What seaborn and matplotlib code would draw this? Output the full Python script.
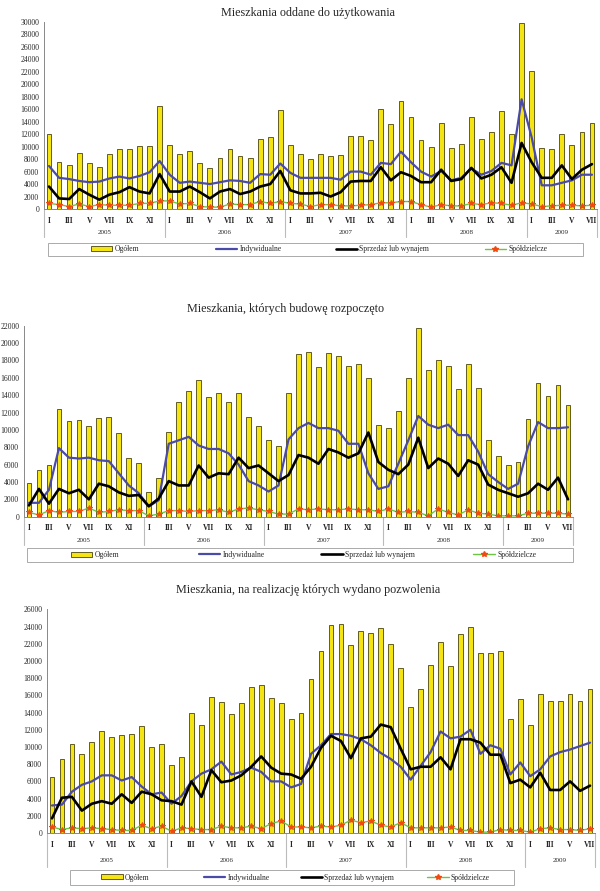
import numpy as np
import pandas as pd
import seaborn as sns
import matplotlib.pyplot as plt
from matplotlib.patches import Patch, Rectangle
from matplotlib.lines import Line2D
from matplotlib.legend import Legend
from matplotlib.transforms import blended_transform_factory

# months Jan 2005 .. Jul 2009
years = ["2005", "2006", "2007", "2008", "2009"]
roman = ["I", "II", "III", "IV", "V", "VI", "VII", "VIII", "IX", "X", "XI", "XII"]
n_months = 55
series_names = ["Ogółem", "Indywidualne", "Sprzedaż lub wynajem", "Spółdzielcze"]

# panel 1: Mieszkania oddane do użytkowania
title_1 = "Mieszkania oddane do użytkowania"
ogolem_1 = [12000, 7600, 7000, 9000, 7300, 6800, 8800, 9600, 9600, 10100, 10100, 16500,
            10200, 8800, 9300, 7300, 6600, 8200, 9600, 8500, 8200, 11200, 11600, 15900,
            10300, 8800, 8100, 8800, 8500, 8700, 11700, 11700, 11100, 16000, 13600, 17300,
            14700, 11000, 9900, 13800, 9800, 10400, 14700, 11300, 12400, 15800, 12100, 29900,
            22100, 9800, 9700, 12100, 10300, 12400, 13800]
indyw_1 = [6900, 5000, 4800, 4500, 4300, 4400, 4900, 5200, 4900, 5300, 5900, 7700,
           5500, 4200, 4400, 4200, 4000, 4300, 4600, 4500, 4200, 5600, 5500, 7300,
           5800, 5000, 5000, 5000, 5000, 4700, 6000, 6000, 5500, 7400, 7200, 9200,
           7500, 6000, 5200, 6100, 4600, 5000, 6500, 5500, 6100, 7400, 7000, 17600,
           11500, 3800, 3800, 4200, 4600, 5500, 5500]
sprzed_1 = [3600, 1700, 1600, 3200, 2300, 1500, 2300, 2700, 3500, 2800, 2500, 5600,
            2800, 2800, 3600, 2700, 1700, 2800, 3200, 2400, 2800, 3600, 4000, 6100,
            3000, 2500, 2500, 2600, 2000, 2700, 4400, 4500, 4500, 6700, 4600, 5900,
            5300, 4300, 4300, 6300, 4500, 4800, 6600, 4900, 5500, 6700, 4200, 10600,
            7500, 5000, 5000, 7000, 4800, 6300, 7200]
spoldz_1 = [900, 700, 400, 800, 400, 700, 600, 600, 600, 900, 900, 1300,
            1300, 800, 900, 400, 300, 300, 800, 700, 700, 1200, 900, 1200,
            900, 800, 400, 700, 700, 500, 500, 600, 700, 1000, 1000, 1200,
            1200, 700, 300, 700, 500, 500, 900, 700, 1000, 900, 600, 1000,
            800, 400, 500, 600, 600, 500, 600]

# panel 2: Mieszkania, których budowę rozpoczęto
title_2 = "Mieszkania, których budowę rozpoczęto"
ogolem_2 = [3900, 5400, 5900, 12400, 11000, 11100, 10400, 11400, 11500, 9600, 6800, 6200,
            2800, 4500, 9700, 13200, 14500, 15700, 13800, 14200, 13200, 14300, 11500, 10500,
            8800, 8200, 14300, 18700, 19000, 17300, 18900, 18500, 17400, 17600, 16000, 10600,
            10200, 12200, 16000, 21700, 16900, 18000, 17400, 14700, 17600, 14800, 8800, 7000,
            6000, 6300, 11300, 15400, 13900, 15200, 12900]
indyw_2 = [1600, 1600, 3100, 7900, 6800, 6700, 6800, 6500, 6400, 5000, 3600, 2700,
           1200, 1900, 8400, 8800, 9200, 8200, 7800, 7800, 7300, 6000, 4100, 3600,
           2900, 3600, 8900, 10200, 10800, 10200, 10200, 9900, 8400, 8400, 5000, 3200,
           3500, 6100, 8800, 11600, 10600, 10200, 10600, 9400, 9400, 7500, 4900, 4000,
           3200, 3800, 8100, 10900, 10200, 10200, 10300]
sprzed_2 = [1300, 3200, 1500, 3200, 2700, 3100, 2000, 3800, 3500, 2800, 2400, 2500,
            1200, 2100, 4100, 3600, 3600, 5900, 4500, 5000, 4900, 6800, 5600, 5900,
            5000, 4100, 4800, 7100, 6800, 6100, 7800, 7400, 6800, 7300, 9700, 6300,
            5400, 4900, 6000, 9100, 5600, 6700, 6100, 4700, 6500, 6000, 3700, 3100,
            2700, 2300, 2700, 3800, 3100, 4500, 2000]
spoldz_2 = [500, 200, 700, 500, 600, 600, 1000, 500, 600, 800, 700, 700,
            100, 300, 700, 700, 600, 700, 700, 800, 500, 900, 1000, 800,
            600, 300, 300, 900, 800, 900, 800, 800, 900, 800, 800, 600,
            900, 500, 600, 500, 100, 900, 500, 200, 800, 400, 300, 100,
            100, 100, 400, 400, 400, 400, 300]

# panel 3: Mieszkania, na realizację których wydano pozwolenia
title_3 = "Mieszkania, na realizację których wydano pozwolenia"
ogolem_3 = [6500, 8600, 10300, 9200, 10600, 11800, 11100, 11400, 11500, 12400, 10000, 10300,
            7900, 8800, 14000, 12500, 15800, 15200, 13800, 15100, 17000, 17200, 15700, 15100,
            13200, 13900, 17900, 21200, 24200, 24300, 21900, 23500, 23300, 23800, 22000, 19200,
            14700, 16700, 19500, 22200, 19400, 23100, 24000, 20900, 20900, 21100, 13300, 15600,
            12500, 16100, 15300, 15300, 16200, 15400, 16700]
indyw_3 = [3200, 3300, 4800, 5600, 6000, 6700, 6700, 6100, 6500, 5400, 4500, 4700,
           3400, 4300, 6000, 6900, 7400, 8300, 6800, 7100, 7600, 7100, 6000, 6000,
           5300, 5700, 9200, 10200, 11500, 11500, 11300, 10900, 10200, 9300, 8600, 7700,
           6200, 7800, 9400, 11800, 11000, 11200, 12000, 9200, 10200, 9800, 6800, 8200,
           6600, 7400, 8900, 9400, 9700, 10100, 10500]
sprzed_3 = [1700, 4100, 4200, 2600, 3400, 3700, 3400, 4500, 3500, 4800, 4500, 3800,
            3700, 3300, 6000, 4200, 7300, 5900, 6100, 6700, 7700, 8900, 7600, 6900,
            6800, 6300, 7700, 9900, 11300, 10700, 8700, 11000, 11200, 12600, 12300, 9800,
            7400, 7700, 7700, 8800, 7400, 10900, 10900, 10500, 9100, 9100, 5800, 6200,
            5300, 7000, 5000, 5000, 6000, 4900, 5500]
spoldz_3 = [700, 400, 600, 500, 600, 500, 400, 300, 300, 900, 500, 800,
            200, 600, 500, 400, 400, 800, 600, 600, 800, 500, 1100, 1400,
            700, 700, 600, 800, 700, 900, 1500, 1200, 1400, 900, 700, 1200,
            600, 600, 600, 600, 700, 300, 300, 100, 100, 400, 300, 300,
            100, 500, 600, 400, 400, 300, 500]

BAR_COLOR = "#F4E414"
BAR_EDGE = "#4A4410"
BLUE = "#4A4AA8"
GREEN = "#6CC644"
RED = "#F04A10"

W, H = 600, 891
sns.set_theme(style="white")
plt.rcParams["font.family"] = ["Liberation Serif", "DejaVu Serif"]


def px_rect(left, top, right, bottom):
    return [left / W, 1 - bottom / H, (right - left) / W, (bottom - top) / H]


def draw_panel(fig, rect, title, title_xy, ogolem, indyw, sprzed, spoldz, ymax,
               month_off, year_off, sep_off, legend_px):
    left, top, right, bottom = rect
    ax = fig.add_axes(px_rect(left, top, right, bottom))
    h_px = bottom - top
    w_px = right - left
    df = pd.DataFrame({"pos": np.arange(n_months), "ogolem": ogolem, "indyw": indyw,
                       "sprzed": sprzed, "spoldz": spoldz})

    sns.barplot(data=df, x="pos", y="ogolem", color=BAR_COLOR, saturation=1,
                edgecolor=BAR_EDGE, linewidth=0.6, width=0.48, ax=ax)
    sns.lineplot(data=df, x="pos", y="indyw", color=BLUE, linewidth=1.6, ax=ax)
    sns.lineplot(data=df, x="pos", y="sprzed", color="black", linewidth=1.9, ax=ax)
    sns.lineplot(data=df, x="pos", y="spoldz", color=GREEN, linewidth=1.0, marker="*",
                 markersize=4, markerfacecolor=RED, markeredgecolor=RED, ax=ax)

    ax.set_xlim(-0.5, n_months - 0.5)
    ax.set_ylim(0, ymax)
    ax.set_yticks(np.arange(0, ymax + 1, 2000))
    ax.set_yticklabels([str(v) for v in range(0, ymax + 1, 2000)], fontsize=5.5)
    ax.tick_params(axis="y", length=2, width=0.6, pad=1.5, color="#777777")
    ax.set_xlabel("")
    ax.set_ylabel("")

    ticks = [i for i in range(n_months) if i % 2 == 0]
    ax.set_xticks(ticks)
    ax.set_xticklabels([roman[i % 12] for i in ticks], fontsize=5.5, fontweight="bold")
    ax.tick_params(axis="x", length=0, pad=month_off)

    for s in ["top", "right"]:
        ax.spines[s].set_visible(False)
    for s in ["left", "bottom"]:
        ax.spines[s].set_color("#888888")
        ax.spines[s].set_linewidth(0.7)

    trans = blended_transform_factory(ax.transData, ax.transAxes)
    for b in [-0.5, 11.5, 23.5, 35.5, 47.5, n_months - 0.5]:
        ax.plot([b, b], [0, -sep_off / h_px], transform=trans, color="#BBBBBB",
                linewidth=0.8, clip_on=False)
    for k, yr in enumerate(years):
        start = k * 12
        end = min(start + 12, n_months)
        ax.text((start + end - 1) / 2, -year_off / h_px, yr, transform=trans,
                ha="center", va="center", fontsize=5)

    fig.text(title_xy[0] / W, 1 - title_xy[1] / H, title, ha="center", va="center",
             fontsize=8.7)

    handles = [Patch(facecolor=BAR_COLOR, edgecolor=BAR_EDGE, linewidth=0.6),
               Line2D([], [], color=BLUE, linewidth=1.6),
               Line2D([], [], color="black", linewidth=1.9),
               Line2D([], [], color=GREEN, linewidth=1.0, marker="*", markersize=4,
                      markerfacecolor=RED, markeredgecolor=RED)]

    # legend box with one centred entry per quarter
    lx0, ly0, lx1, ly1 = legend_px
    box = Rectangle(((lx0 - left) / w_px, -(ly1 - bottom) / h_px),
                    (lx1 - lx0) / w_px, (ly1 - ly0) / h_px, transform=ax.transAxes,
                    facecolor="white", edgecolor="#AAAAAA", linewidth=0.7,
                    clip_on=False)
    ax.add_patch(box)
    col_w = (lx1 - lx0) / 4
    yc = -((ly0 + ly1) / 2 - bottom) / h_px
    for k in range(4):
        xc = (lx0 + col_w * (k + 0.5) - left) / w_px
        leg = Legend(ax, [handles[k]], [series_names[k]], loc="center",
                     bbox_to_anchor=(xc, yc), bbox_transform=ax.transAxes,
                     fontsize=5.5, frameon=False, handlelength=2.8,
                     handleheight=0.6, handletextpad=0.3, borderpad=0,
                     borderaxespad=0)
        ax.add_artist(leg)
    return ax


fig = plt.figure(figsize=(W / 100, H / 100), dpi=100)

draw_panel(fig, (44, 22, 597, 209), title_1, (308, 13),
           ogolem_1, indyw_1, sprzed_1, spoldz_1, 30000,
           month_off=6, year_off=24, sep_off=28, legend_px=(48, 243, 583, 256))
draw_panel(fig, (24, 325.7, 573, 516.7), title_2, (286, 309),
           ogolem_2, indyw_2, sprzed_2, spoldz_2, 22000,
           month_off=5, year_off=24, sep_off=28, legend_px=(27, 548, 573, 562))
draw_panel(fig, (47, 609.3, 595, 833), title_3, (308, 590),
           ogolem_3, indyw_3, sprzed_3, spoldz_3, 26000,
           month_off=6, year_off=28, sep_off=34, legend_px=(70, 870, 514, 885))

fig.savefig("out.png", dpi=100, facecolor="white")
